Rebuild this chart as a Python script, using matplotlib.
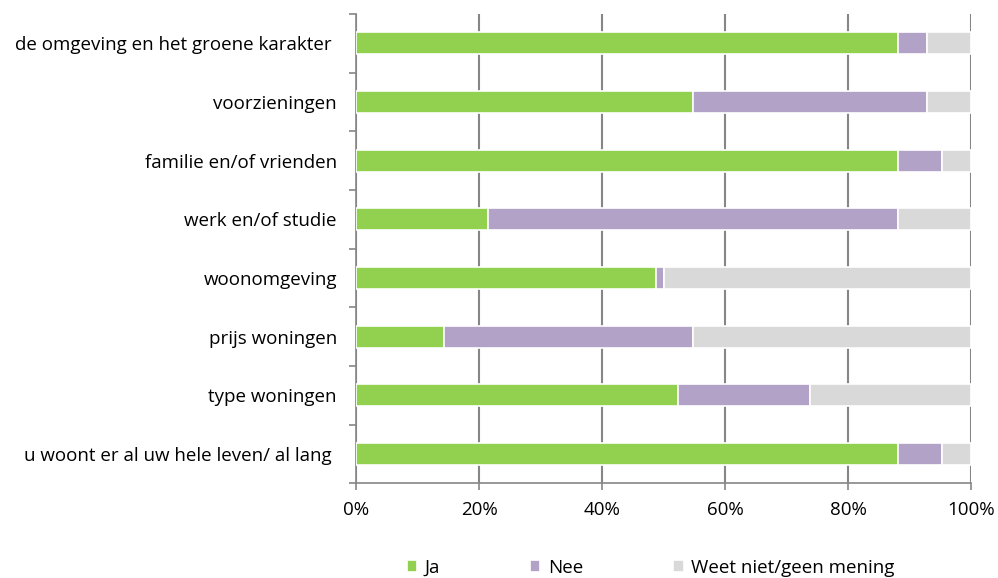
import numpy as np
import matplotlib
matplotlib.use("Agg")
import matplotlib.pyplot as plt
from matplotlib.ticker import FixedLocator, PercentFormatter

# Survey answers per reason (percentages, top to bottom)
categories = [
    "de omgeving en het groene karakter ",
    "voorzieningen",
    "familie en/of vrienden",
    "werk en/of studie",
    "woonomgeving",
    "prijs woningen",
    "type woningen",
    "u woont er al uw hele leven/ al lang ",
]
ja = [88.1, 54.8, 88.1, 21.4, 48.8, 14.3, 52.4, 88.1]
nee = [4.7, 38.0, 7.1, 66.7, 1.2, 40.5, 21.4, 7.1]
weet_niet = [7.2, 7.2, 4.8, 11.9, 50.0, 45.2, 26.2, 4.8]

series = [("Ja", ja, "#92D050"),
          ("Nee", nee, "#B3A2C7"),
          ("Weet niet/geen mening", weet_niet, "#D9D9D9")]

plt.rcParams["font.family"] = ["Open Sans", "DejaVu Sans"]
axis_grey = "#868686"
fs = 13.5

fig = plt.figure(figsize=(9.98, 5.78), dpi=100)
ax = fig.add_axes([0.357, 0.164, 0.616, 0.812])

y = np.arange(len(categories))
left = np.zeros(len(categories))
for name, vals, col in series:
    vals = np.array(vals)
    ax.barh(y, vals, left=left, height=0.375, color=col,
            edgecolor="white", linewidth=1.2, label=name, zorder=3)
    left += vals

ax.set_xlim(0, 100)
ax.set_ylim(len(categories) - 0.5, -0.5)

# x axis: percent ticks with vertical grid lines
ax.set_xticks(np.arange(0, 101, 20))
ax.xaxis.set_major_formatter(PercentFormatter(decimals=0))
ax.grid(axis="x", color=axis_grey, linewidth=1.5, zorder=0)
ax.tick_params(axis="x", length=5, width=1.2, color=axis_grey,
               labelsize=fs, pad=8, labelcolor="black")

# y axis: tick marks between categories, labels centred on bars
ax.yaxis.set_major_locator(FixedLocator(np.arange(-0.5, len(categories), 1)))
ax.yaxis.set_major_formatter(plt.NullFormatter())
ax.yaxis.set_minor_locator(FixedLocator(y))
ax.set_yticklabels(categories, minor=True)
ax.tick_params(axis="y", which="major", length=5, width=1.2, color=axis_grey)
ax.tick_params(axis="y", which="minor", length=0, pad=14, labelsize=fs)

for side in ("top", "right"):
    ax.spines[side].set_visible(False)
for side in ("left", "bottom"):
    ax.spines[side].set_color(axis_grey)
    ax.spines[side].set_linewidth(1.2)

fig.legend(loc="center", bbox_to_anchor=(0.652, 0.018), ncol=3,
           frameon=False, fontsize=fs, handlelength=0.55, handleheight=0.65,
           handletextpad=0.4, columnspacing=4.8)

fig.savefig("out.png", dpi=100)
